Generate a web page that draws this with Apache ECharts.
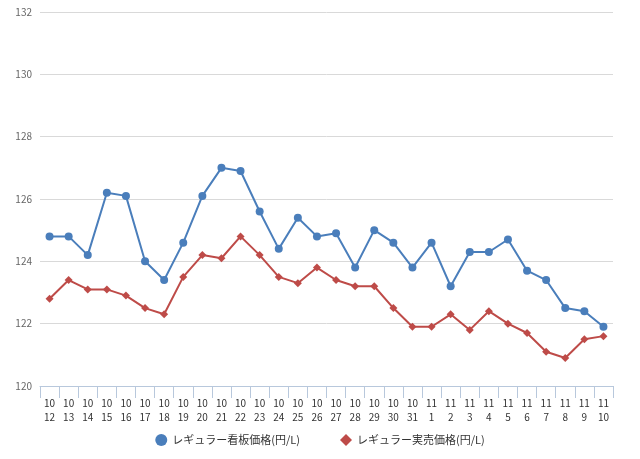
<!DOCTYPE html>
<html><head><meta charset="utf-8">
<script src="https://cdn.jsdelivr.net/npm/echarts@6/dist/echarts.min.js"></script>
<style>body{margin:0;background:#fff}#main{width:640px;height:459px}</style>
</head><body><div id="main"></div>
<script>
const dates = ['10\n12','10\n13','10\n14','10\n15','10\n16','10\n17','10\n18','10\n19','10\n20','10\n21','10\n22','10\n23','10\n24','10\n25','10\n26','10\n27','10\n28','10\n29','10\n30','10\n31','11\n1','11\n2','11\n3','11\n4','11\n5','11\n6','11\n7','11\n8','11\n9','11\n10']
const signPrice = [124.8,124.8,124.2,126.2,126.1,124.0,123.4,124.6,126.1,127.0,126.9,125.6,124.4,125.4,124.8,124.9,123.8,125.0,124.6,123.8,124.6,123.2,124.3,124.3,124.7,123.7,123.4,122.5,122.4,121.9]
const realPrice = [122.8,123.4,123.1,123.1,122.9,122.5,122.3,123.5,124.2,124.1,124.8,124.2,123.5,123.3,123.8,123.4,123.2,123.2,122.5,121.9,121.9,122.3,121.8,122.4,122.0,121.7,121.1,120.9,121.5,121.6]

const chart = echarts.init(document.getElementById('main'))
chart.setOption({
  animation:false,
  textStyle:{fontFamily:'Noto Sans CJK JP'},
  grid:{left:40,right:27,top:12,bottom:73},
  legend:{bottom:8,itemGap:40,itemWidth:12,itemHeight:12,textStyle:{fontSize:11,color:'#333'},
    data:[{name:'レギュラー看板価格(円/L)',icon:'circle'},{name:'レギュラー実売価格(円/L)',icon:'diamond'}]},
  xAxis:{type:'category',data:dates,
    axisLine:{lineStyle:{color:'#b8c8dc'}},axisTick:{show:true,length:12,lineStyle:{color:'#b8c8dc'}},
    axisLabel:{color:'#333',fontSize:10,lineHeight:14,interval:0,margin:10}},
  yAxis:{type:'value',min:120,max:132,interval:2,
    axisLabel:{color:'#666',fontSize:10},
    splitLine:{lineStyle:{color:'#d9d9d9'}}},
  series:[
    {name:'レギュラー看板価格(円/L)',type:'line',data:signPrice,symbol:'circle',symbolSize:8,
      itemStyle:{color:'#4a7ebb'},lineStyle:{width:2}},
    {name:'レギュラー実売価格(円/L)',type:'line',data:realPrice,symbol:'diamond',symbolSize:8,
      itemStyle:{color:'#be4b48'},lineStyle:{width:2}}
  ]
})
</script></body></html>
